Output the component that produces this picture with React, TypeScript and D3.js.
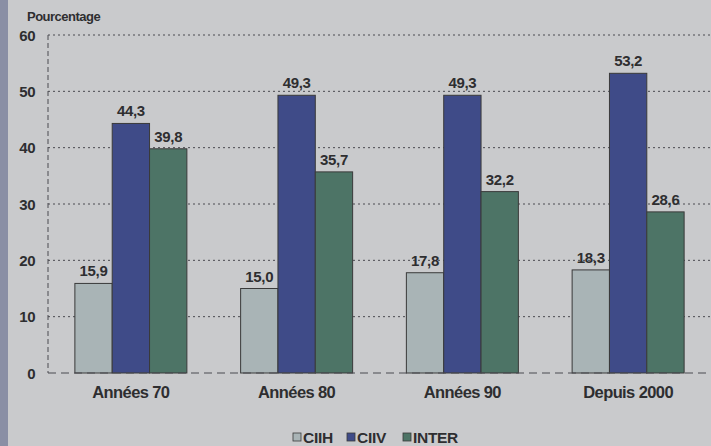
import React from "react";
import * as d3 from "d3";

const categories = ["Années 70", "Années 80", "Années 90", "Depuis 2000"];
const seriesNames = ["CIIH", "CIIV", "INTER"];
const ciih = [15.9, 15.0, 17.8, 18.3];
const ciiv = [44.3, 49.3, 49.3, 53.2];
const inter = [39.8, 35.7, 32.2, 28.6];
const yTicks = [0, 10, 20, 30, 40, 50, 60];
const colors = ["#a9b4b6", "#3f4b88", "#4d7466"];

const W = 711;
const H = 446;
const margin = { left: 48, right: 0, top: 35, bottom: 72 };

export default function App() {
  const series = [ciih, ciiv, inter];
  const x = d3.scaleBand<string>().domain(categories).range([margin.left, W]).paddingInner(0).paddingOuter(0);
  const y = d3.scaleLinear().domain([0, 60]).range([H - margin.bottom - 1, margin.top]);
  const groupW = 112;
  const x1 = d3.scaleBand<string>().domain(seriesNames).range([0, groupW]);
  const font = "Arial, 'Liberation Sans', sans-serif";
  const textColor = "#2e2e30";

  const legendItems = seriesNames.map((s, i) => ({ s, i }));
  const legendX = [293, 347, 403];

  return (
    <svg width={W} height={H} style={{ position: "fixed", left: 0, top: 0 }} fontFamily={font}>
      <rect x={0} y={0} width={W} height={H} fill="#c9cacc" />
      <rect x={0} y={0} width={8} height={H} fill="#8a8fa5" />
      <text x={27} y={21} fontSize={13} fontWeight="bold" fill={textColor} letterSpacing={-0.5}>
        Pourcentage
      </text>
      {yTicks.filter((t) => t > 0).map((t) => (
        <line key={"g" + t} x1={margin.left} x2={W} y1={y(t)} y2={y(t)} stroke="#4a4a50" strokeWidth={1} strokeDasharray="2,3" />
      ))}
      <line x1={margin.left} x2={margin.left} y1={y(60)} y2={y(0)} stroke="#4a4a50" strokeWidth={1} strokeDasharray="5,3" />
      {yTicks.map((t) => (
        <text key={"t" + t} x={35} y={y(t) + 5.5} textAnchor="end" fontSize={15} fontWeight="bold" fill={textColor} letterSpacing={-0.5}>
          {t}
        </text>
      ))}
      {categories.map((c, ci) => {
        const gx = (x(c) as number) + (x.bandwidth() - groupW) / 2;
        return (
          <g key={c}>
            {series.map((vals, si) => {
              const bx = gx + (x1(seriesNames[si]) as number);
              const bw = x1.bandwidth();
              return (
                <g key={si}>
                  <rect x={bx} y={y(vals[ci])} width={bw} height={y(0) - y(vals[ci])} fill={colors[si]} stroke="#3a3a3a" strokeWidth={1} />
                  <text x={bx + bw / 2} y={y(vals[ci]) - 7} textAnchor="middle" fontSize={15} fontWeight="bold" fill={textColor} letterSpacing={-0.3}>
                    {vals[ci].toFixed(1).replace(".", ",")}
                  </text>
                </g>
              );
            })}
            <text x={(x(c) as number) + x.bandwidth() / 2} y={y(0) + 25} textAnchor="middle" fontSize={16.5} fontWeight="bold" fill={textColor} letterSpacing={-0.6}>
              {c}
            </text>
          </g>
        );
      })}
      <line x1={margin.left} x2={W} y1={y(0)} y2={y(0)} stroke="#4a4a50" strokeWidth={1.2} strokeDasharray="8,5" />
      {legendItems.map(({ s, i }) => (
        <g key={s}>
          <rect x={legendX[i]} y={433} width={8} height={8} fill={colors[i]} stroke="#3a3a3a" strokeWidth={0.8} />
          <text x={legendX[i] + 10} y={443} fontSize={15.5} fontWeight="bold" fill={textColor} letterSpacing={-0.3}>
            {s}
          </text>
        </g>
      ))}
    </svg>
  );
}
